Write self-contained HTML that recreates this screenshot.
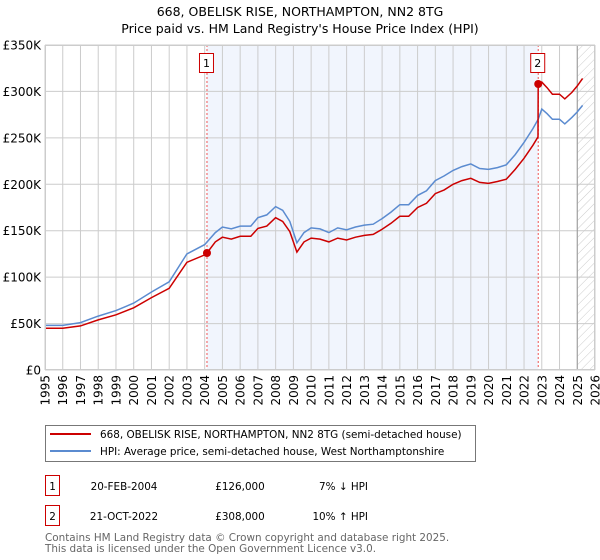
<!DOCTYPE html>
<html><head><meta charset="utf-8"><style>
body{margin:0;background:#fff;}
svg{display:block;font-family:"DejaVu Sans","Liberation Sans",sans-serif;}
</style></head><body>
<svg id="chart" width="600" height="560" viewBox="0 0 600 560">
<defs><pattern id="hatch" width="6" height="6" patternUnits="userSpaceOnUse" patternTransform="rotate(45)"><line x1="0" y1="0" x2="0" y2="6" stroke="#ccc" stroke-width="1"/></pattern></defs>
<text x="300" y="16" text-anchor="middle" font-size="12.5" fill="#000">668, OBELISK RISE, NORTHAMPTON, NN2 8TG</text>
<text x="300" y="33" text-anchor="middle" font-size="12.5" fill="#000">Price paid vs. HM Land Registry's House Price Index (HPI)</text>
<g id="plot"></g>
<g>
<rect x="45.5" y="425.5" width="430" height="36" fill="#fff" stroke="#777"/>
<line x1="50" y1="434" x2="91" y2="434" stroke="#cc0000" stroke-width="2"/>
<text x="100" y="438" font-size="10.4">668, OBELISK RISE, NORTHAMPTON, NN2 8TG (semi-detached house)</text>
<line x1="50" y1="451" x2="91" y2="451" stroke="#5b8bd0" stroke-width="2"/>
<text x="100" y="455" font-size="10.4">HPI: Average price, semi-detached house, West Northamptonshire</text>
</g>
<g font-size="10.4">
<rect x="45.5" y="475.5" width="14" height="20" fill="#fff" stroke="#cc0000"/>
<text x="52.5" y="490" text-anchor="middle">1</text>
<text x="124" y="490" text-anchor="middle">20-FEB-2004</text>
<text x="240" y="490" text-anchor="middle">£126,000</text>
<text x="368" y="490" text-anchor="end">7% ↓ HPI</text>
<rect x="45.5" y="505.5" width="14" height="20" fill="#fff" stroke="#cc0000"/>
<text x="52.5" y="520" text-anchor="middle">2</text>
<text x="124" y="520" text-anchor="middle">21-OCT-2022</text>
<text x="240" y="520" text-anchor="middle">£308,000</text>
<text x="368" y="520" text-anchor="end">10% ↑ HPI</text>
</g>
<text x="45" y="541" font-size="10.4" fill="#666">Contains HM Land Registry data © Crown copyright and database right 2025.</text>
<text x="45" y="552" font-size="10.4" fill="#666">This data is licensed under the Open Government Licence v3.0.</text>
</svg>
<script>
const hpiYears = [1995,1996,1997,1998,1999,2000,2001,2002,2003,2004,2004.6,2005,2005.5,2006,2006.6,2007,2007.5,2008,2008.4,2008.8,2009.2,2009.6,2010,2010.5,2011,2011.5,2012,2012.5,2013,2013.5,2014,2014.5,2015,2015.5,2016,2016.5,2017,2017.5,2018,2018.5,2019,2019.5,2020,2020.5,2021,2021.5,2022,2022.5,2022.8,2023,2023.3,2023.6,2024,2024.3,2024.7,2025,2025.3];
const hpiValues = [48,48,51,58,64,72,84,95,125,135,148,154,152,155,155,164,167,176,172,160,137,148,153,152,148,153,151,154,156,157,163,170,178,178,188,193,204,209,215,219,222,217,216,218,221,232,245,260,270,281,276,270,270,265,272,278,285];
const propYears = [1995,1996,1997,1998,1999,2000,2001,2002,2003,2004,2004.13,2004.6,2005,2005.5,2006,2006.6,2007,2007.5,2008,2008.4,2008.8,2009.2,2009.6,2010,2010.5,2011,2011.5,2012,2012.5,2013,2013.5,2014,2014.5,2015,2015.5,2016,2016.5,2017,2017.5,2018,2018.5,2019,2019.5,2020,2020.5,2021,2021.5,2022,2022.5,2022.79,2022.8,2023,2023.3,2023.6,2024,2024.3,2024.7,2025,2025.3];
const propValues = [45,45,47.5,54,59.5,67,78,88,116,124,126,138,143,141,144,144,152.5,155,164,160,149,127,138,142,141,138,142,140,143,145,146,151.5,158,165.5,165.5,175,179.5,190,194,200,204,206.5,202,201,203,205.5,216,228,242,251,308,310,304,297,297,292,299,306,314];
const saleYears = [2004.13,2022.8];
const saleValues = [126,308];
const saleLabels = ["1","2"];
const yTicks = [0,50,100,150,200,250,300,350];
const yTickLabels = ["£0","£50K","£100K","£150K","£200K","£250K","£300K","£350K"];
const xTicks = [1995,1996,1997,1998,1999,2000,2001,2002,2003,2004,2005,2006,2007,2008,2009,2010,2011,2012,2013,2014,2015,2016,2017,2018,2019,2020,2021,2022,2023,2024,2025,2026];

const L=45,R=595,T=45,B=370,x0=1995,x1=2026,ymax=350;
const X=v=>L+(v-x0)/(x1-x0)*(R-L);
const Y=v=>B-v/ymax*(B-T);
const NS="http://www.w3.org/2000/svg";
const g=document.getElementById('plot');
function mk(tag,attrs,parent){const e=document.createElementNS(NS,tag);for(const k in attrs)e.setAttribute(k,attrs[k]);(parent||g).appendChild(e);return e;}

let e=mk('rect',{x:X(saleYears[0]),y:T,width:X(saleYears[1])-X(saleYears[0]),height:B-T,fill:'#eef3fc',opacity:0.8});


e=mk('rect',{x:X(2025),y:T,width:R-X(2025),height:B-T,fill:'url(#hatch)'});



xTicks.forEach((t,i)=>{
  const l=mk('line',{x1:X(t),y1:T,x2:X(t),y2:B,stroke:'#ccc','stroke-width':1});
  
  
  const tx=mk('text',{x:0,y:0,'font-size':12,'text-anchor':'end',transform:`translate(${X(t)+4.5},${B+5}) rotate(-90)`});
  tx.textContent=t;
  
  
});
yTicks.forEach((t,i)=>{
  const l=mk('line',{x1:L,y1:Y(t),x2:R,y2:Y(t),stroke:'#ccc','stroke-width':1});
  
  
  const tx=mk('text',{x:L-4,y:Y(t)+4.5,'font-size':12,'text-anchor':'end'});
  tx.textContent=yTickLabels[i];
  
  
});
e=mk('line',{x1:X(2025),y1:T,x2:X(2025),y2:B,stroke:'#999','stroke-width':1});



saleYears.forEach((s,i)=>{
  const l=mk('line',{x1:X(s),y1:T,x2:X(s),y2:B,stroke:'#ee5555','stroke-width':1,'stroke-dasharray':'2,2'});
  
  
});

const path=(xs,vs)=>xs.map((v,i)=>(i?'L':'M')+X(v).toFixed(1)+','+Y(vs[i]).toFixed(1)).join('');
e=mk('path',{d:path(hpiYears,hpiValues),fill:'none',stroke:'#5b8bd0','stroke-width':1.5});


e=mk('path',{d:path(propYears,propValues),fill:'none',stroke:'#cc0000','stroke-width':1.5});



saleYears.forEach((s,i)=>{
  const c=mk('circle',{cx:X(s),cy:Y(saleValues[i]),r:4,fill:'#cc0000'});
  
  
  const r=mk('rect',{x:X(s)-7.5,y:53.5,width:14,height:19,fill:'#fff',stroke:'#cc0000'});
  
  
  const t=mk('text',{x:X(s)-0.5,y:67,'font-size':11,'text-anchor':'middle'});
  t.textContent=saleLabels[i];
  
  
});
e=mk('rect',{x:L+0.5,y:T+0.5,width:R-L-1,height:B-T-1,fill:'none',stroke:'#ccc'});


</script>
</body></html>
